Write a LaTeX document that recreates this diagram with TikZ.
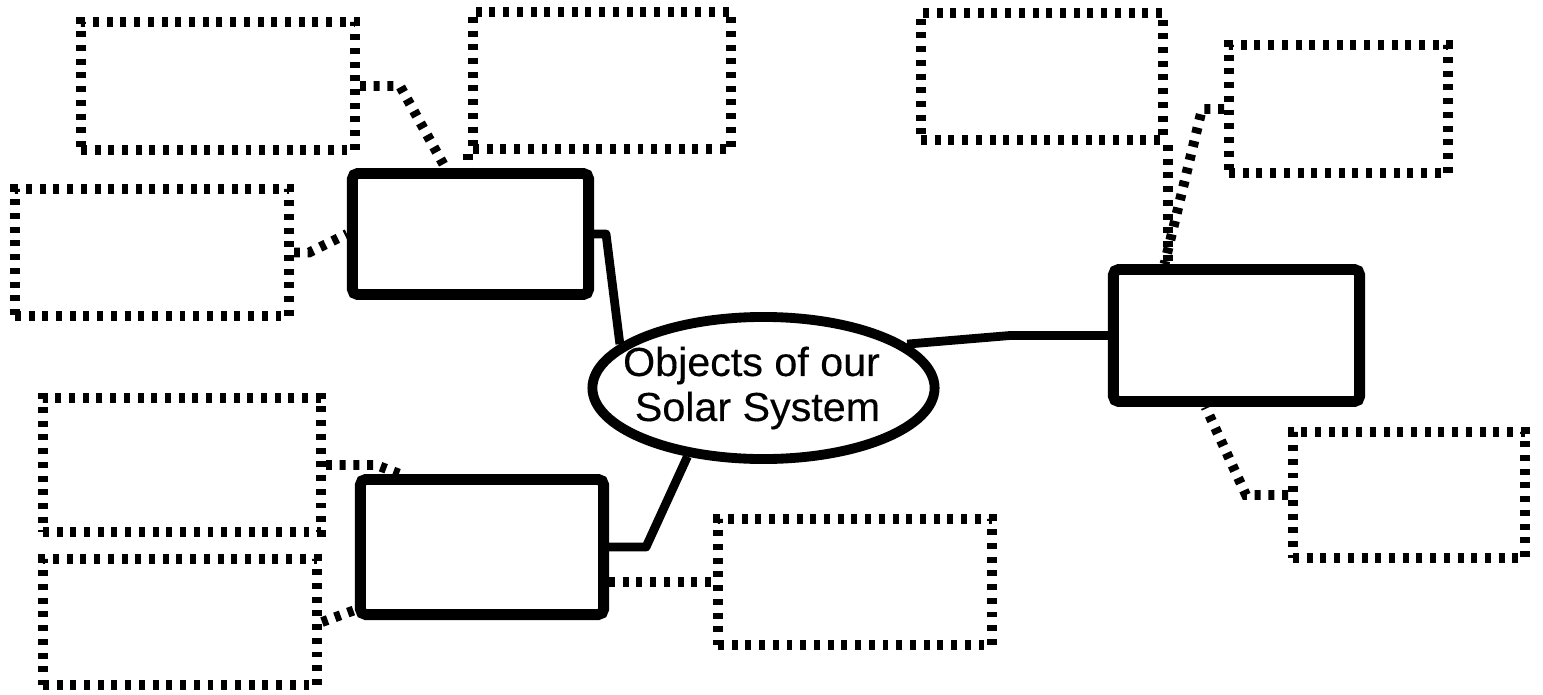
\documentclass[tikz,border=0pt]{standalone}
\usepackage{fontspec}
\newfontfamily\bubblefont[FakeStretch=1.02,FakeBold=0.3]{Liberation Sans}
\usetikzlibrary{shapes,positioning,shapes.geometric}

\begin{document}
\begin{tikzpicture}[x=0.01cm,y=-0.01cm,
	solidbox/.style={draw, rectangle, line width=3.1pt, rounded corners=1.5pt, inner sep=0pt},
	dotbox/.style={draw, rectangle, line width=2.8pt, dash pattern=on 1.7pt off 2.2pt, inner sep=0pt},
	link/.style={line width=2.5pt, line join=round},
	dotlink/.style={line width=2.8pt, dash pattern=on 1.7pt off 2.2pt},
	bubble/.style={draw, ellipse, line width=2.8pt, inner xsep=-0.3cm, inner ysep=0pt, align=center, font=\bubblefont\fontsize{11.5pt}{12.8pt}\selectfont}]
				\useasboundingbox (0,0) rectangle (1543,694);
				
				% Centre
				\node[bubble, minimum width=3.42cm, minimum height=1.42cm] (sun) at (763.5,388) {Objects of our\hspace*{0.24cm}\\Solar System\hspace*{0.12cm}};
				
				% Branches
				\node[solidbox, minimum width=2.36cm, minimum height=1.21cm] (topbranch) at (470.5,234) {};
				\node[solidbox, minimum width=2.43cm, minimum height=1.35cm] (lowbranch) at (482,547) {};
				\node[solidbox, minimum width=2.46cm, minimum height=1.32cm] (rightbranch) at (1236.5,335.5) {};
				
				% Empty leaves
				\node[dotbox, minimum width=2.74cm, minimum height=1.28cm] (leafA) at (218,86) {};
				\node[dotbox, minimum width=2.58cm, minimum height=1.37cm] (leafB) at (602,80.5) {};
				\node[dotbox, minimum width=2.74cm, minimum height=1.27cm] (leafC) at (152,252.5) {};
				\node[dotbox, minimum width=2.78cm, minimum height=1.34cm] (leafD) at (182,465) {};
				\node[dotbox, minimum width=2.74cm, minimum height=1.26cm] (leafE) at (180,622) {};
				\node[dotbox, minimum width=2.74cm, minimum height=1.26cm] (leafF) at (855,582) {};
				\node[dotbox, minimum width=2.42cm, minimum height=1.27cm] (leafG) at (1042,76.5) {};
				\node[dotbox, minimum width=2.19cm, minimum height=1.28cm] (leafH) at (1338.5,109) {};
				\node[dotbox, minimum width=2.32cm, minimum height=1.26cm] (leafI) at (1409,495) {};
				
				% Solid links
				\draw[link] (topbranch.east) -- ++(12,0) -- (sun.163);
				\draw[link] (rightbranch.west) -- ++(-98,0) -- (sun.17);
				\draw[link] (lowbranch.east) -- ++(37,0) -- (sun.222);
				
				% Dotted links
				\draw[dotlink] (leafA.east) -- ++(40,0) -- ([xshift=-0.25cm]topbranch.north);
				\draw[dotlink] (leafB.south west) -- (leafB.south west |- topbranch.north);
				\draw[dotlink] (leafC.east) -- ++(15,0) -- (topbranch.west);
				\draw[dotlink] (leafD.east) -- ++(50,0) -- ([xshift=0.45cm]lowbranch.north west);
				\draw[dotlink] (leafE.east) -- ([yshift=0.1cm]lowbranch.south west);
				\draw[dotlink] (lowbranch.east |- leafF.west) -- (leafF.west);
				\draw[dotlink] (leafG.south east) -- (leafG.south east |- rightbranch.north);
				\draw[dotlink] (leafH.west) -- ++(-22,0) -- ([xshift=0.565cm]rightbranch.north west);
				\draw[dotlink] (leafI.west) -- ++(-42,0) -- ([xshift=0.975cm]rightbranch.south west);
			\end{tikzpicture}
\end{document}
